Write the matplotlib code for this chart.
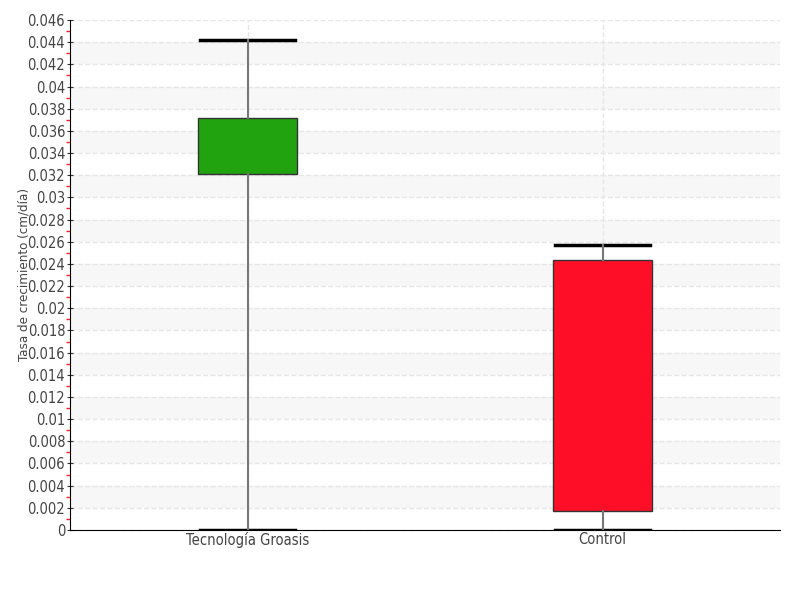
import matplotlib.pyplot as plt
import numpy as np
from matplotlib.ticker import MultipleLocator, FuncFormatter

categorias = ['Tecnología Groasis', 'Control']
minimos = [0.0, 0.0]
q1 = [0.03211, 0.00171]
medianas = [0.03373, 0.01434]
q3 = [0.03716, 0.02435]
maximos = [0.04420, 0.02571]
colores = ['#21a30f', '#ff0f27']

plt.rcParams['font.family'] = ['DejaVu Sans']
plt.rcParams['font.stretch'] = 'condensed'

fig = plt.figure(figsize=(8, 6), dpi=100)
ax = fig.add_axes([0.0875, 0.1167, 0.8875, 0.85])

# bandas alternas grises
for y0 in np.arange(0.002, 0.046, 0.004):
    ax.axhspan(y0, y0 + 0.002, color='#f7f7f7', zorder=0, lw=0)

stats = []
for i in range(len(categorias)):
    stats.append({'label': categorias[i], 'whislo': minimos[i], 'q1': q1[i], 'med': medianas[i],
                  'q3': q3[i], 'whishi': maximos[i], 'fliers': []})

bp = ax.bxp(stats, positions=[1, 2], widths=0.28, patch_artist=True, showfliers=False,
            boxprops=dict(edgecolor='#333333', linewidth=1),
            medianprops=dict(color='#333333', linewidth=1),
            whiskerprops=dict(color='#777777', linewidth=1.5),
            capprops=dict(color='black', linewidth=2.5), capwidths=0.27)
for patch, c in zip(bp['boxes'], colores):
    patch.set_facecolor(c)
    patch.set_zorder(3)
for w in bp['whiskers']:
    w.set_zorder(3)

ax.set_xlim(0.5, 2.5)
ax.set_ylim(0, 0.046)
ax.yaxis.set_major_locator(MultipleLocator(0.002))
ax.yaxis.set_minor_locator(MultipleLocator(0.001))
ax.yaxis.set_major_formatter(FuncFormatter(lambda v, p: '%g' % round(v, 4)))

ax.grid(axis='both', which='major', color='#e6e6e6', linestyle='--', linewidth=1, zorder=1)
ax.set_axisbelow(True)

for s in ['top', 'right']:
    ax.spines[s].set_visible(False)
ax.spines['left'].set_color('black')
ax.spines['bottom'].set_color('black')

ax.tick_params(axis='y', which='major', direction='inout', length=5, color='#333333',
               labelsize=10.5, labelcolor='#444444', pad=1)
ax.tick_params(axis='y', which='minor', direction='out', length=3, width=1, color='#ff2020')
ax.tick_params(axis='x', length=0, labelsize=10.5, labelcolor='#444444', pad=1.5)

ax.set_ylabel('Tasa de crecimiento (cm/día)', fontsize=9.5, color='#444444')
ax.yaxis.set_label_coords(-0.055, 0.5)

fig.savefig('out.png', dpi=100)
